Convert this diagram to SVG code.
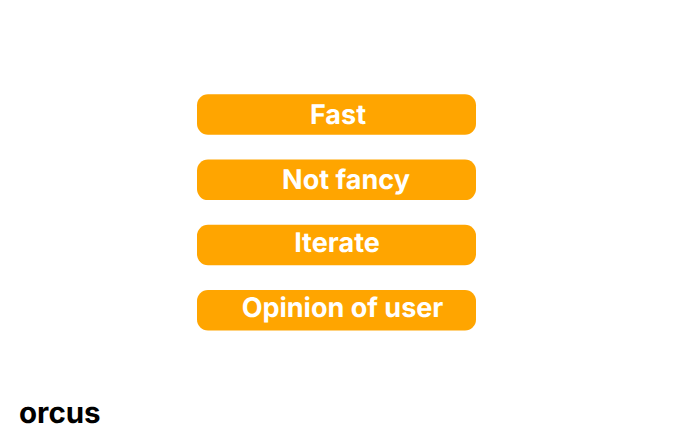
<svg xmlns="http://www.w3.org/2000/svg" width="673" height="444" viewBox="0 0 673 444">
<style>
text{text-rendering:geometricPrecision}
.box{fill:#ffa500}
.t{font-family:Inter,"Liberation Sans",sans-serif;font-weight:700;font-size:27px;fill:#fff;text-anchor:middle}
.logo{font-family:Inter,"Liberation Sans",sans-serif;font-weight:700;font-size:29.500px;fill:#000}
</style>
<rect width="673" height="444" fill="#fff"/>
<g id="connectors"></g>
<g id="node-fast"><rect class="box" x="197" y="94.300" width="279" height="40.500" rx="11"/><text class="t" x="338" y="123.500">Fast</text></g>
<g id="node-not-fancy"><rect class="box" x="197" y="159.600" width="279" height="40.500" rx="11"/><text class="t" x="346" y="188.500">Not fancy</text></g>
<g id="node-iterate"><rect class="box" x="197" y="224.800" width="279" height="40.500" rx="11"/><text class="t" x="337" y="252">Iterate</text></g>
<g id="node-opinion"><rect class="box" x="197" y="290" width="279" height="40.500" rx="11"/><text class="t" x="342.500" y="317">Opinion of user</text></g>
<text class="logo" x="19" y="423">orcus</text>
</svg>
